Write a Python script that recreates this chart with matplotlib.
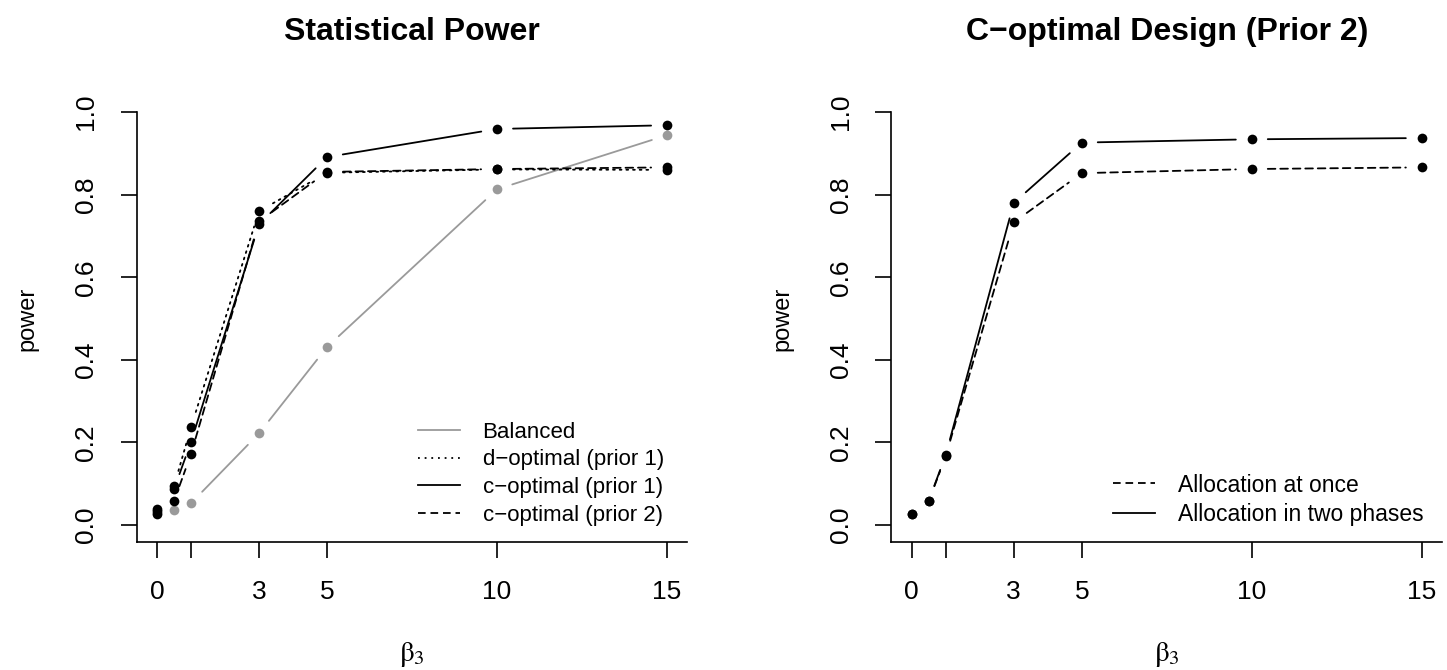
import numpy as np
import matplotlib

matplotlib.use("Agg")
import matplotlib.pyplot as plt
from matplotlib.lines import Line2D

plt.rcParams["font.family"] = ["Liberation Sans", "DejaVu Sans"]
plt.rcParams["mathtext.fontset"] = "stix"
plt.rcParams["mathtext.default"] = "rm"
plt.rcParams["lines.scale_dashes"] = False

# x values (beta_3)
beta3 = [0, 0.5, 1, 3, 5, 10, 15]
xtick_pos = [0, 1, 3, 5, 10, 15]
xtick_labels = ["0", "", "3", "5", "10", "15"]

# left panel: statistical power
balanced = [0.030, 0.036, 0.053, 0.222, 0.431, 0.813, 0.944]
d_opt_p1 = [0.040, 0.094, 0.237, 0.760, 0.853, 0.861, 0.860]
c_opt_p1 = [0.035, 0.087, 0.201, 0.728, 0.891, 0.959, 0.968]
c_opt_p2 = [0.028, 0.058, 0.172, 0.735, 0.855, 0.862, 0.866]

# right panel: c-optimal design (prior 2)
at_once = [0.026, 0.058, 0.167, 0.733, 0.852, 0.862, 0.866]
two_phase = [0.027, 0.059, 0.170, 0.780, 0.926, 0.934, 0.937]

GRAY = "#9a9a9a"
SOLID = "solid"
DOTTED = (0, (1.3, 3.5))
DASHED = (0, (5.5, 3.5))
GAP = 11.5  # 点の周りの空白 (R の type="b")

fig = plt.figure(figsize=(14.47, 6.70), dpi=100)
ax1 = fig.add_axes([0.0944, 0.191, 0.3807, 0.6418])
ax2 = fig.add_axes([0.616, 0.191, 0.3807, 0.6418])


def draw_b(ax, x, y, color, ls, z):
    """点 + 隙間つきの線分 (R の type='b' 風)"""
    ax.plot(x, y, "o", color=color, ms=7, mec="none", zorder=z)
    pts = ax.transData.transform(np.column_stack([x, y]))
    gap_px = GAP * fig.dpi / 72
    for i in range(len(x) - 1):
        if np.hypot(*(pts[i + 1] - pts[i])) <= 2 * gap_px + 2:
            continue
        ax.annotate(
            "",
            xy=(x[i + 1], y[i + 1]),
            xytext=(x[i], y[i]),
            arrowprops=dict(
                arrowstyle="-",
                color=color,
                lw=1.3,
                linestyle=ls,
                shrinkA=GAP,
                shrinkB=GAP,
            ),
            zorder=z,
        )


def style_axes(ax, title):
    ax.set_xlim(-0.6, 15.6)
    ax.set_ylim(-0.041, 1.0)
    for s in ["top", "right"]:
        ax.spines[s].set_visible(False)
    for s in ["left", "bottom"]:
        ax.spines[s].set_linewidth(1.2)
    ax.set_xticks(xtick_pos)
    ax.set_xticklabels(xtick_labels)
    yt = np.arange(0, 1.01, 0.2)
    ax.set_yticks(yt)
    ax.set_yticklabels([f"{v:.1f}" for v in yt], rotation=90, va="center")
    ax.tick_params(length=11.5, width=1.2, labelsize=19, pad=16)
    ax.set_title(title, fontsize=23, fontweight="bold", pad=52)
    ax.set_xlabel(r"$\beta_3$", fontsize=21)
    ax.xaxis.set_label_coords(0.5, -0.228)
    ax.set_ylabel("power", fontsize=17)
    ax.yaxis.set_label_coords(-0.178, 0.52)


style_axes(ax1, "Statistical Power")
style_axes(ax2, "C\u2212optimal Design (Prior 2)")

# 左パネル
draw_b(ax1, beta3, balanced, GRAY, SOLID, 3)
draw_b(ax1, beta3, d_opt_p1, "black", DOTTED, 4)
draw_b(ax1, beta3, c_opt_p1, "black", SOLID, 5)
draw_b(ax1, beta3, c_opt_p2, "black", DASHED, 6)

handles1 = [
    Line2D([], [], color=GRAY, lw=1.3, ls=SOLID),
    Line2D([], [], color="black", lw=1.3, ls=DOTTED),
    Line2D([], [], color="black", lw=1.3, ls=SOLID),
    Line2D([], [], color="black", lw=1.3, ls=DASHED),
]
labels1 = [
    "Balanced",
    "d\u2212optimal (prior 1)",
    "c\u2212optimal (prior 1)",
    "c\u2212optimal (prior 2)",
]
ax1.legend(
    handles1,
    labels1,
    loc="lower left",
    bbox_to_anchor=(0.511, 0.038),
    frameon=False,
    fontsize=16,
    handlelength=1.9,
    handletextpad=1.0,
    labelspacing=0.3,
    borderpad=0,
    borderaxespad=0,
)

# 右パネル
draw_b(ax2, beta3, at_once, "black", DASHED, 4)
draw_b(ax2, beta3, two_phase, "black", SOLID, 5)

handles2 = [
    Line2D([], [], color="black", lw=1.3, ls=DASHED),
    Line2D([], [], color="black", lw=1.3, ls=SOLID),
]
ax2.legend(
    handles2,
    ["Allocation at once", "Allocation in two phases"],
    loc="lower left",
    bbox_to_anchor=(0.4025, 0.038),
    frameon=False,
    fontsize=16.5,
    handlelength=1.85,
    handletextpad=1.0,
    labelspacing=0.27,
    borderpad=0,
    borderaxespad=0,
)

fig.savefig("out.png", dpi=100)
plt.close(fig)
